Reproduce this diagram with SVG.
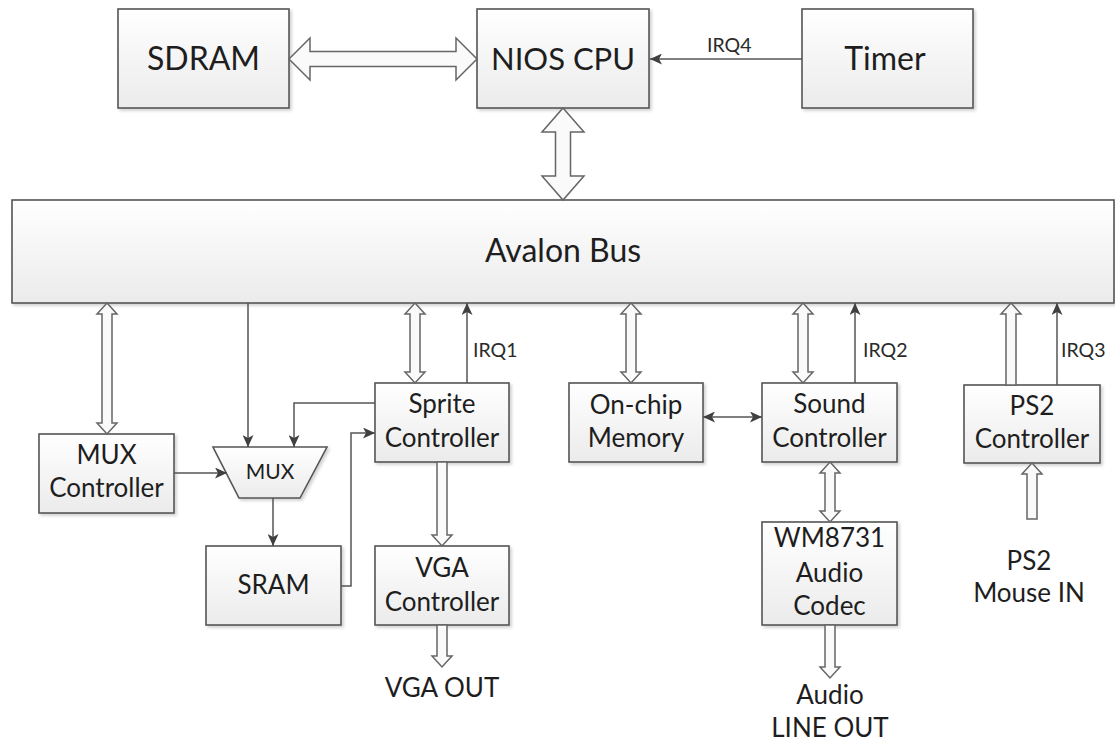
<svg xmlns="http://www.w3.org/2000/svg" width="1115" height="742" viewBox="0 0 1115 742">
<defs>
<linearGradient id="g" x1="0" y1="0" x2="0" y2="1">
<stop offset="0" stop-color="#ffffff"/>
<stop offset="1" stop-color="#ebebeb"/>
</linearGradient>
<filter id="sh" x="-5%" y="-5%" width="115%" height="120%">
<feDropShadow dx="2" dy="2" stdDeviation="1.5" flood-color="#000" flood-opacity="0.18"/>
</filter>
<marker id="ah" markerUnits="userSpaceOnUse" markerWidth="13" markerHeight="11" refX="12" refY="5.5" orient="auto-start-reverse">
<path d="M0,0 L12,5.5 L0,11 L3,5.5 z" fill="#404040"/>
</marker>
</defs>
<style>
.box{fill:url(#g);stroke:#555;stroke-width:1.6;filter:url(#sh)}
.t{font-family:Lato,"Open Sans","Liberation Sans",sans-serif;fill:#1e1e1e;text-anchor:middle}
.big{font-size:32px}
.mid{font-size:26px}
.sm{font-size:21px}
.lbl{font-family:Lato,"Open Sans","Liberation Sans",sans-serif;fill:#2a2a2a;font-size:19.5px}
.fat{fill:#fafafa;stroke:#666;stroke-width:1.5;stroke-linejoin:miter}
.ln{fill:none;stroke:#555;stroke-width:1.5}
</style>

<g id="sdram"><rect class="box" x="118" y="9" width="171" height="99"/><text class="t big" x="203.5" y="70">SDRAM</text></g>
<g id="nios"><rect class="box" x="477" y="9" width="172" height="99"/><text class="t" style="font-size:31px" x="563" y="70">NIOS CPU</text></g>
<g id="timer"><rect class="box" x="802" y="9" width="171" height="99"/><text class="t big" x="885" y="70">Timer</text></g>
<g id="avalon"><rect class="box" x="12" y="200" width="1102" height="103"/><text class="t" style="font-size:32px" x="563" y="262">Avalon Bus</text></g>
<g id="muxctrl"><rect class="box" x="39" y="434" width="135" height="79"/><text class="t mid" x="106.5" y="464">MUX</text><text class="t mid" x="106.5" y="497">Controller</text></g>
<g id="mux"><polygon class="box" points="213,447 327,447 300,498 239,498"/><text class="t sm" x="270" y="479">MUX</text></g>
<g id="sram"><rect class="box" x="206" y="546" width="135" height="79"/><text class="t mid" x="273.5" y="594">SRAM</text></g>
<g id="sprite"><rect class="box" x="375" y="383" width="134" height="79"/><text class="t mid" x="442" y="413">Sprite</text><text class="t mid" x="442" y="447">Controller</text></g>
<g id="vga"><rect class="box" x="375" y="546" width="134" height="79"/><text class="t mid" x="442" y="577">VGA</text><text class="t mid" x="442" y="611">Controller</text></g>
<g id="vgaout"><text class="t mid" x="442" y="697">VGA OUT</text></g>
<g id="onchip"><rect class="box" x="569" y="383" width="134" height="79"/><text class="t mid" x="636" y="414">On-chip</text><text class="t mid" x="636" y="447">Memory</text></g>
<g id="sound"><rect class="box" x="762" y="383" width="135" height="79"/><text class="t mid" x="829.5" y="413">Sound</text><text class="t mid" x="829.5" y="447">Controller</text></g>
<g id="codec"><rect class="box" x="762" y="522" width="135" height="103"/><text class="t mid" x="829.5" y="547">WM8731</text><text class="t mid" x="829.5" y="582">Audio</text><text class="t mid" x="829.5" y="615">Codec</text></g>
<g id="lineout"><text class="t mid" x="830" y="704">Audio</text><text class="t mid" x="830" y="737">LINE OUT</text></g>
<g id="ps2"><rect class="box" x="964" y="385" width="136" height="78"/><text class="t mid" x="1032" y="415">PS2</text><text class="t mid" x="1032" y="448">Controller</text></g>
<g id="mouse"><text class="t mid" x="1029" y="570">PS2</text><text class="t mid" x="1029" y="602">Mouse IN</text></g>

<g id="connectors">
<polygon class="fat" points="289,59 310,38 310,51.5 456,51.5 456,38 477,59 456,80 456,66.5 310,66.5 310,80"/>
<polygon class="fat" points="563,108 584,132 570.5,132 570.5,176 584,176 563,200 542,176 555.5,176 555.5,132 542,132"/>
<polygon class="fat" points="107,303 117,314 112,314 112,423 117,423 107,434 97,423 102,423 102,314 97,314"/>
<polygon class="fat" points="415,303 425,314 420,314 420,372 425,372 415,383 405,372 410,372 410,314 405,314"/>
<polygon class="fat" points="631,303 641,314 636,314 636,372 641,372 631,383 621,372 626,372 626,314 621,314"/>
<polygon class="fat" points="803,303 813,314 808,314 808,372 813,372 803,383 793,372 798,372 798,314 793,314"/>
<polygon class="fat" points="1011,303 1021,314 1016,314 1016,385 1006,385 1006,314 1001,314"/>
<polygon class="fat" points="830,462 840,473 835,473 835,511 840,511 830,522 820,511 825,511 825,473 820,473"/>
<polygon class="fat" points="437,462 447,462 447,535 452,535 442,546 432,535 437,535"/>
<polygon class="fat" points="437,625 447,625 447,656 452,656 442,667 432,656 437,656"/>
<polygon class="fat" points="825,625 835,625 835,667 840,667 830,678 820,667 825,667"/>
<polygon class="fat" points="1032,463 1042,474 1037,474 1037,519 1027,519 1027,474 1022,474"/>

<path class="ln" d="M802,59 L650,59" marker-end="url(#ah)"/>
<path class="ln" d="M248,303 L248,447" marker-end="url(#ah)"/>
<path class="ln" d="M375,403 L294,403 L294,447" marker-end="url(#ah)"/>
<path class="ln" d="M174,473 L227,473" marker-end="url(#ah)"/>
<path class="ln" d="M273,498 L273,546" marker-end="url(#ah)"/>
<path class="ln" d="M341,586 L351,586 L351,433 L375,433" marker-end="url(#ah)"/>
<path class="ln" d="M467,383 L467,303" marker-end="url(#ah)"/>
<path class="ln" d="M703,417 L762,417" marker-start="url(#ah)" marker-end="url(#ah)"/>
<path class="ln" d="M855,383 L855,303" marker-end="url(#ah)"/>
<path class="ln" d="M1057,385 L1057,303" marker-end="url(#ah)"/>

<text class="lbl" x="707" y="52">IRQ4</text>
<text class="lbl" x="473" y="357">IRQ1</text>
<text class="lbl" x="863" y="357">IRQ2</text>
<text class="lbl" x="1061" y="357">IRQ3</text>
</g>
</svg>
